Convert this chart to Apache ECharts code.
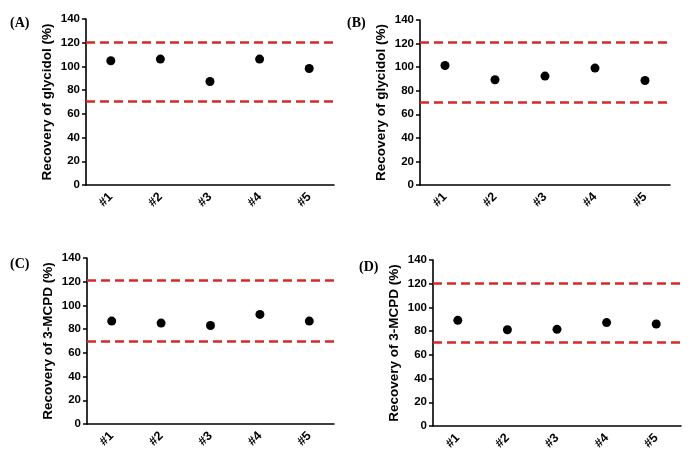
<!DOCTYPE html>
<html><head><meta charset="utf-8">
<script src="https://cdn.jsdelivr.net/npm/echarts@6/dist/echarts.min.js"></script>
<style>html,body{margin:0;padding:0;background:#fff}#c{width:694px;height:467px}</style>
</head><body><div id="c"></div>
<script>
var categories = ['#1', '#2', '#3', '#4', '#5'];
var panelLabels = ['(A)', '(B)', '(C)', '(D)'];
var axisTitles = ['Recovery of glycidol (%)', 'Recovery of glycidol (%)', 'Recovery of 3-MCPD (%)', 'Recovery of 3-MCPD (%)'];
var valuesA = [104.8, 106.2, 87.3, 106.2, 98.3];
var valuesB = [101.4, 89.3, 92.4, 99.2, 88.7];
var valuesC = [86.8, 85.1, 83.1, 92.4, 86.8];
var valuesD = [89.1, 81.2, 81.5, 87.2, 86.0];
var upperLimits = [120.5, 120.7, 121, 120];
var lowerLimits = [71, 70.5, 69.5, 71];
var yTicks = [0, 20, 40, 60, 80, 100, 120, 140];

var allValues = [valuesA, valuesB, valuesC, valuesD];
var grids = [
  {left: 86, top: 19, width: 248, height: 166},
  {left: 420, top: 20, width: 250, height: 165},
  {left: 87, top: 258, width: 247, height: 166},
  {left: 433, top: 260, width: 248, height: 166}
];
var labelPos = [[10, 16], [347, 16], [10, 257], [359, 260]];

var font = 'Liberation Sans, Arial, sans-serif';
var option = {
  animation: false,
  backgroundColor: '#fff',
  title: panelLabels.map(function (t, i) {
    return {text: t, left: labelPos[i][0], top: labelPos[i][1], padding: 0,
      textStyle: {fontFamily: 'Liberation Serif, Times New Roman, serif', fontWeight: 'bold', fontSize: 14, color: '#000'}};
  }),
  grid: grids,
  xAxis: grids.map(function (g, i) {
    return {type: 'category', gridIndex: i, data: categories, boundaryGap: true,
      axisLine: {lineStyle: {color: '#000', width: 1.6}},
      axisTick: {alignWithLabel: true, length: 4, lineStyle: {color: '#000', width: 1.5}},
      axisLabel: {rotate: 45, margin: 10, color: '#000', fontWeight: 'bold', fontSize: 12.5, fontFamily: font},
      splitLine: {show: false}};
  }),
  yAxis: grids.map(function (g, i) {
    return {type: 'value', gridIndex: i, min: yTicks[0], max: yTicks[yTicks.length - 1], interval: 20,
      name: axisTitles[i], nameLocation: 'middle', nameGap: 32, nameRotate: 90,
      nameTextStyle: {color: '#000', fontWeight: 'bold', fontSize: 13.5, fontFamily: font},
      axisLine: {show: true, lineStyle: {color: '#000', width: 1.6}},
      axisTick: {show: true, length: 4, lineStyle: {color: '#000', width: 1.5}},
      axisLabel: {margin: 6, color: '#000', fontWeight: 'bold', fontSize: 11.5, fontFamily: font},
      splitLine: {show: false}};
  }),
  series: allValues.map(function (vals, i) {
    return {type: 'scatter', xAxisIndex: i, yAxisIndex: i, data: vals,
      symbol: 'circle', symbolSize: 9, itemStyle: {color: '#000', opacity: 1},
      markLine: {silent: true, symbol: 'none', label: {show: false},
        lineStyle: {color: '#d42a2a', width: 2.5, type: [9, 5], opacity: 1},
        data: [{yAxis: upperLimits[i]}, {yAxis: lowerLimits[i]}]}};
  })
};
var chart = echarts.init(document.getElementById('c'), null, {renderer: 'canvas'});
chart.setOption(option);
</script></body></html>
